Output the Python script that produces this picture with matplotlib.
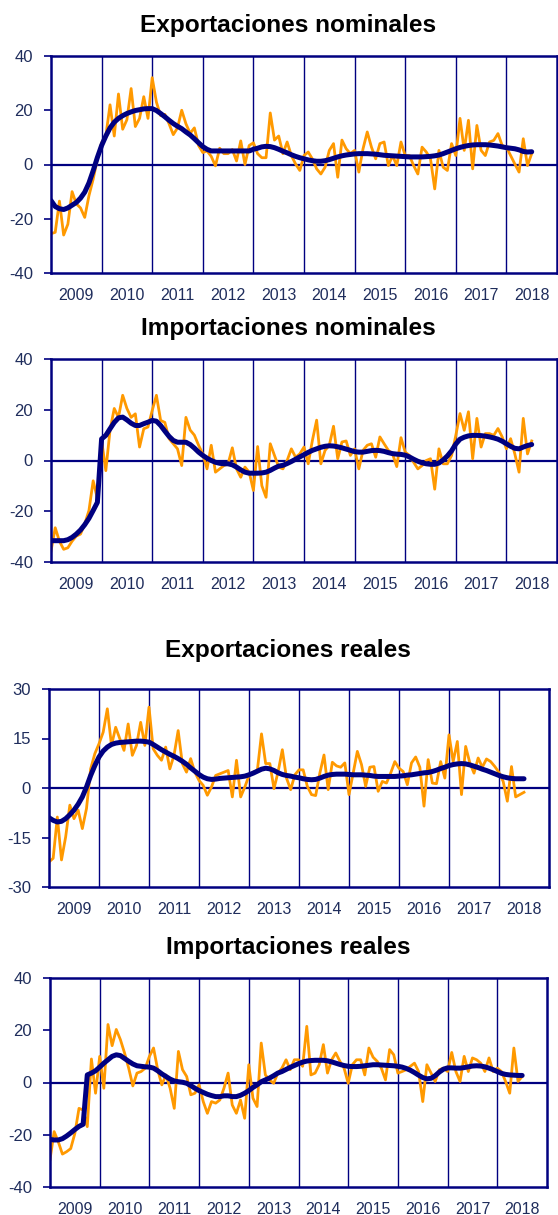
import matplotlib
matplotlib.use('Agg')
import matplotlib.pyplot as plt
import numpy as np

plt.rcParams['font.family'] = ['Liberation Sans', 'DejaVu Sans']
plt.rcParams['axes.unicode_minus'] = False

# monthly data, Jan 2009 .. Jul 2018 (variacion interanual, %)
years = [2009, 2010, 2011, 2012, 2013, 2014, 2015, 2016, 2017, 2018]

exp_nom = [-25.5, -25, -13.5, -26, -22, -10, -14.5, -16, -19.5, -11.5,
           -5.4, 2, 8, 10.5, 22, 10.5, 26, 13, 16.5, 28,
           14, 17, 25, 17, 32, 23, 18, 18.5, 15, 11,
           13.5, 20, 15, 11.5, 13.5, 7, 4.4, 5, 3, -0.5,
           6, 4, 4, 5.5, 1.3, 8.7, 0, 7, 8, 4,
           2.5, 2.5, 19, 9, 10.5,
           4, 8.3, 3.3, 0.2, -2.2, 3.3, 4.6, 2, -1.6, -3.5,
           -1, 5.2, 7.7, -4.7, 9, 5.8, 4, 5.2, -2.8, 5.8,
           12, 6.4, 2.1, 7.7, 8.3, -0.4, 3.3, -0.4, 8.3, 3.3,
           3.3, -0.4, -3.5, 6.4, 4.6, 2.1, -9, 5.2, -1, -2.2,
           7.7, 3.3, 17, 5.2, 16.3, -1.6, 14.4, 5.2, 3.3, 8.3,
           8.9, 11.4, 7, 6.4, 3.3, 0.2, -2.8, 9.5, -0.4, 4]
exp_nom_tend = [-13.3, -15.5, -16.3, -16.6, -16, -15, -14, -12.4, -10.2, -6.8,
                -2.3, 2.6, 7, 10.5, 13.5, 15.6, 17, 18, 18.8, 19.4,
                19.9, 20.2, 20.5, 20.6, 20.6, 19.9, 18.8, 17.6, 16.3, 15.1,
                14.1, 13.2, 12, 10.9, 9.5, 8, 6.6, 5.6, 5, 5,
                5, 5, 5, 5, 5, 5, 5, 5, 5.6, 6,
                6.5, 6.7, 6.6, 6.2, 5.6,
                4.9, 4.3, 3.6, 3.0, 2.5, 2.1, 1.7, 1.4, 1.2, 1.2,
                1.4, 1.8, 2.3, 2.8, 3.2, 3.5, 3.7, 3.9, 4.0, 4.0,
                4.0, 3.9, 3.8, 3.6, 3.4, 3.3, 3.2, 3.1, 3.0, 2.9,
                2.8, 2.8, 2.8, 2.8, 2.9, 3.0, 3.2, 3.5, 4.0, 4.6,
                5.2, 5.8, 6.3, 6.7, 7.0, 7.2, 7.3, 7.3, 7.3, 7.2,
                7.0, 6.8, 6.5, 6.2, 6.0, 5.8, 5.4, 4.8, 4.6, 4.7]

imp_nom = [-35.7, -26.5, -31.8, -35, -34.4, -31.8, -29.8, -29, -25, -19.7,
           -8, -15, 8, -4, 12, 20.5, 17, 25.7, 20.5, 17,
           18.4, 5.3, 12.5, 13.2, 19.7, 25.7, 15.8, 15, 8.6, 6.6,
           4.6, -2, 17, 12, 10, 6, 2.6, -3.3, 6, -4.6,
           -3.3, -2, -1.3, 5, -3.3, -6.6, -2.6, -4.6, -11.8, 5.5,
           -9.9, -14.5, 6.6, 2, -2.6,
           -3.3, 0, 4.6, 1.3, 2.6, 5.3, -1.3, 8, 15.9, -1.3,
           4, 6, 13.5, 0.7, 7.3, 7.7, 2, 4.6, -3.3, 4,
           6, 6.6, 1.3, 9.3, 6.6, 4, 2.6, -2.4, 9, 3.3,
           2, -0.7, -3.3, -2, 0, 0.7, -11.3, 4.6, -1.3, -1.3,
           2, 9.9, 18.5, 11.9, 19.2, 0.7, 16.6, 5.3, 10.6, 10.6,
           9.9, 12.6, 9.3, 4.6, 8.6, 2.6, -4.6, 16.6, 2.6, 7.7]
imp_nom_tend = [-31.6, -31.6, -31.6, -31.6, -31.2, -30.3, -29, -27.4, -25.3, -22.8,
                -19.7, -16.5, 8.5, 9.9, 12.5, 15, 16.8, 17.1, 16, 14.7,
                13.8, 13.8, 14.5, 15.1, 15.8, 15.5, 13.8, 11.6, 9.5, 7.9,
                7.2, 7.2, 7.2, 6.3, 4.9, 3.3, 2, 0.9, 0, -0.7,
                -1.1, -1.3, -1.3, -1.7, -2.6, -3.7, -4.6, -5, -5, -5,
                -4.9, -4.6, -3.9, -3, -2.2,
                -1.9, -1.2, -0.4, 0.5, 1.4, 2.3, 3.2, 4.0, 4.6, 5.2,
                5.6, 5.8, 5.7, 5.4, 5.0, 4.5, 4.0, 3.5, 3.3, 3.3,
                3.6, 3.9, 4.0, 3.9, 3.6, 3.1, 2.7, 2.5, 2.4, 2.1,
                1.4, 0.5, -0.3, -0.9, -1.3, -1.5, -1.5, -1.0, 0.2, 1.8,
                3.8, 6.5, 8.4, 9.2, 9.7, 9.9, 9.9, 9.8, 9.6, 9.3,
                8.9, 8.4, 7.6, 6.6, 5.6, 4.8, 4.6, 5.3, 5.9, 6.3]

exp_real = [-22.4, -21.3, -8.8, -21.8, -14.8, -5.2, -9.3, -6.7, -12.3, -6.2,
            5.8, 10.4, 13.4, 16.9, 24, 12.9, 18.4, 14.9, 11.4, 19.4,
            9.9, 12.9, 19.9, 12.9, 24.5, 11.9, 9.9, 8.4, 12.4, 5.8,
            9.9, 17.4, 7.4, 4.8, 8.9, 4.8, 2.3, 0.8, -2.2, 0.3,
            3.8, 4.3, 4.8, 5.3, -2.7, 8.4, -2.7, 0.3, 3.8, 4.8,
            5.3, 16.4, 7.4, 7.4, -0.2,
            5, 11.6, 3, -0.5, 4, 5.5, 5.5, 0.5, -2, -2.3,
            4.5, 10, -0.5, 7.8, 6.7, 6.3, 7.6, -2, 4.5, 11.1,
            7.1, 0.5, 6.3, 6.5, -1, 2, 1.5, 4.5, 8, 6,
            5, 1, 7.6, 9.4, 6.3, -5.5, 8.6, 1.5, 1.3, 8,
            3, 16.1, 8, 14.1, -2, 12.6, 7.6, 4.5, 9.1, 6.3,
            8.8, 8, 6.5, 4.7, 2, -4, 6.5, -2.7, -2, -1.3]
exp_real_tend = [-9, -9.8, -10.3, -10.1, -9.3, -8.1, -6.7, -4.9, -2.7, 0.3,
                 3.8, 6.8, 9.4, 11.2, 12.4, 13.2, 13.6, 13.8, 13.9, 14,
                 14.1, 14.2, 14.2, 14.1, 13.9, 13.2, 12.4, 11.6, 10.9, 10.2,
                 9.6, 8.9, 8.1, 7.2, 6.1, 5.1, 4.1, 3.3, 2.8, 2.6,
                 2.7, 2.9, 3, 3.1, 3.2, 3.3, 3.4, 3.6, 4, 4.5,
                 5.1, 5.7, 6, 5.8, 5.3,
                 4.6, 4.1, 3.8, 3.6, 3.3, 3.1, 2.8, 2.6, 2.5, 2.6,
                 3.0, 3.5, 3.9, 4.1, 4.2, 4.2, 4.2, 4.1, 4.0, 4.0,
                 4.0, 3.9, 3.8, 3.6, 3.5, 3.5, 3.5, 3.5, 3.5, 3.6,
                 3.7, 3.9, 4.0, 4.2, 4.4, 4.6, 4.7, 5.0, 5.4, 5.9,
                 6.3, 6.8, 7.1, 7.3, 7.4, 7.3, 7.0, 6.6, 6.2, 5.7,
                 5.3, 4.8, 4.3, 3.8, 3.4, 3.1, 2.9, 2.8, 2.8, 2.8]

imp_real = [-29.5, -18.8, -22.7, -27.4, -26.5, -25.3, -19.5, -9.9, -10.5, -16.9,
            9, -4.1, 10, -2.2, 22.2, 14.1, 20.3, 16.4, 11.3, 5.5,
            -1.3, 3.6, 4.2, 5.5, 10, 13.2, 4.9, -0.9, 2.9, -2.2,
            -9.9, 11.9, 4.9, 2.3, -4.7, -4.1, -0.9, -7.3, -11.8, -7.3,
            -7.9, -6.7, -2.2, 3.6, -8.6, -11.8, -6.7, -13.7, 6.8, -6,
            -9.2, 15.1, 2.9, 1, -0.3,
            3.6, 5.5, 8.7, 4.9, 8.7, 8.7, 6.2, 21.5, 2.9, 3.6,
            6.8, 14.5, 3.6, 8.7, 11.3, 8.1, 5.5, -0.3, 6.8, 8.7,
            8.7, 2.9, 13.2, 9.7, 8.1, 5.5, 1, 12.6, 10.6, 3.6,
            4.2, 4.9, 6.2, 7.4, 4.2, -7.3, 6.8, 3.6, 0.4, 4.9,
            5.5, 4.2, 11.5, 4.2, 0.4, 10, 4.2, 9.4, 8.7, 7.4,
            4.2, 9.4, 4.2, 5.5, 4.2, 0.4, -4.1, 13.2, 0.4, 2.3]
imp_real_tend = [-21.8, -22, -22, -21.5, -20.5, -19.3, -18, -16.8, -16.0, 2.9,
                 3.6, 4.5, 5.9, 7.4, 8.7, 10, 10.6, 10.3, 9.2, 8.1,
                 7.1, 6.4, 6.2, 6, 5.9, 5.5, 4.5, 3.3, 2.3, 1.3,
                 0.6, 0.3, 0.1, -0.3, -1.2, -2.2, -3.1, -3.8, -4.5, -5,
                 -5.4, -5.4, -5.1, -5.1, -5.4, -5.4, -4.9, -4.1, -3.1, -1.9,
                 -0.9, 0.3, 1, 1.7, 2.6,
                 3.6, 4.2, 5.0, 5.8, 6.5, 7.2, 7.8, 8.2, 8.4, 8.5,
                 8.5, 8.5, 8.3, 7.9, 7.4, 6.9, 6.5, 6.2, 6.1, 6.1,
                 6.2, 6.4, 6.6, 6.8, 6.8, 6.7, 6.6, 6.5, 6.4, 6.2,
                 5.9, 5.4, 4.7, 3.8, 2.8, 1.9, 1.4, 1.6, 2.6, 4.0,
                 5.1, 5.6, 5.6, 5.5, 5.5, 5.7, 6.0, 6.3, 6.4, 6.3,
                 6.0, 5.5, 4.9, 4.2, 3.5, 3.1, 2.9, 2.8, 2.7, 2.7]

titles = ['Exportaciones nominales', 'Importaciones nominales',
          'Exportaciones reales', 'Importaciones reales']
yticks = [[-40, -20, 0, 20, 40], [-40, -20, 0, 20, 40],
          [-30, -15, 0, 15, 30], [-40, -20, 0, 20, 40]]

NAVY = '#000080'
ORANGE = '#FF9900'
LABEL = '#1f2d5c'

W, H = 558, 1215
fig = plt.figure(figsize=(W / 100, H / 100), dpi=100)

# axes boxes in pixels: x0, x1, y0 (top), y1 (bottom); title baseline y
boxes = [(51, 557, 56, 273, 32), (51, 557, 359, 562, 335),
         (49, 549, 689, 887, 657), (50, 547, 978, 1187, 954)]
series = [(exp_nom, exp_nom_tend), (imp_nom, imp_nom_tend),
          (exp_real, exp_real_tend), (imp_real, imp_real_tend)]

for (x0, x1, y0, y1, ty), (mens, tend), title, yt in zip(boxes, series, titles, yticks):
    ax = fig.add_axes([x0 / W, 1 - y1 / H, (x1 - x0) / W, (y1 - y0) / H])
    t = 2009 + np.arange(len(mens)) / 12
    for yr in years[1:]:
        ax.axvline(yr, color=NAVY, lw=1.0, zorder=1)
    ax.axhline(0, color=NAVY, lw=1.6, zorder=1)
    ax.plot(t, mens, color=ORANGE, lw=2.0, zorder=2)
    ax.plot(t, tend, color=NAVY, lw=3.6, solid_capstyle='round', zorder=3)
    ax.set_xlim(2009, 2019)
    ax.set_ylim(yt[0], yt[-1])
    ax.set_yticks(yt)
    ax.set_xticks([y + 0.5 for y in years])
    ax.set_xticklabels([str(y) for y in years])
    ax.tick_params(axis='x', length=0, pad=11, labelsize=11.5, labelcolor=LABEL)
    ax.tick_params(axis='y', length=5, width=1.2, color=NAVY, pad=8,
                   labelsize=12, labelcolor=LABEL)
    for s in ax.spines.values():
        s.set_color(NAVY)
        s.set_linewidth(1.8)
    fig.text(288 / W, 1 - ty / H, title, ha='center', va='baseline',
             fontsize=17.6, fontweight='bold')

fig.savefig('out.png', dpi=100)
